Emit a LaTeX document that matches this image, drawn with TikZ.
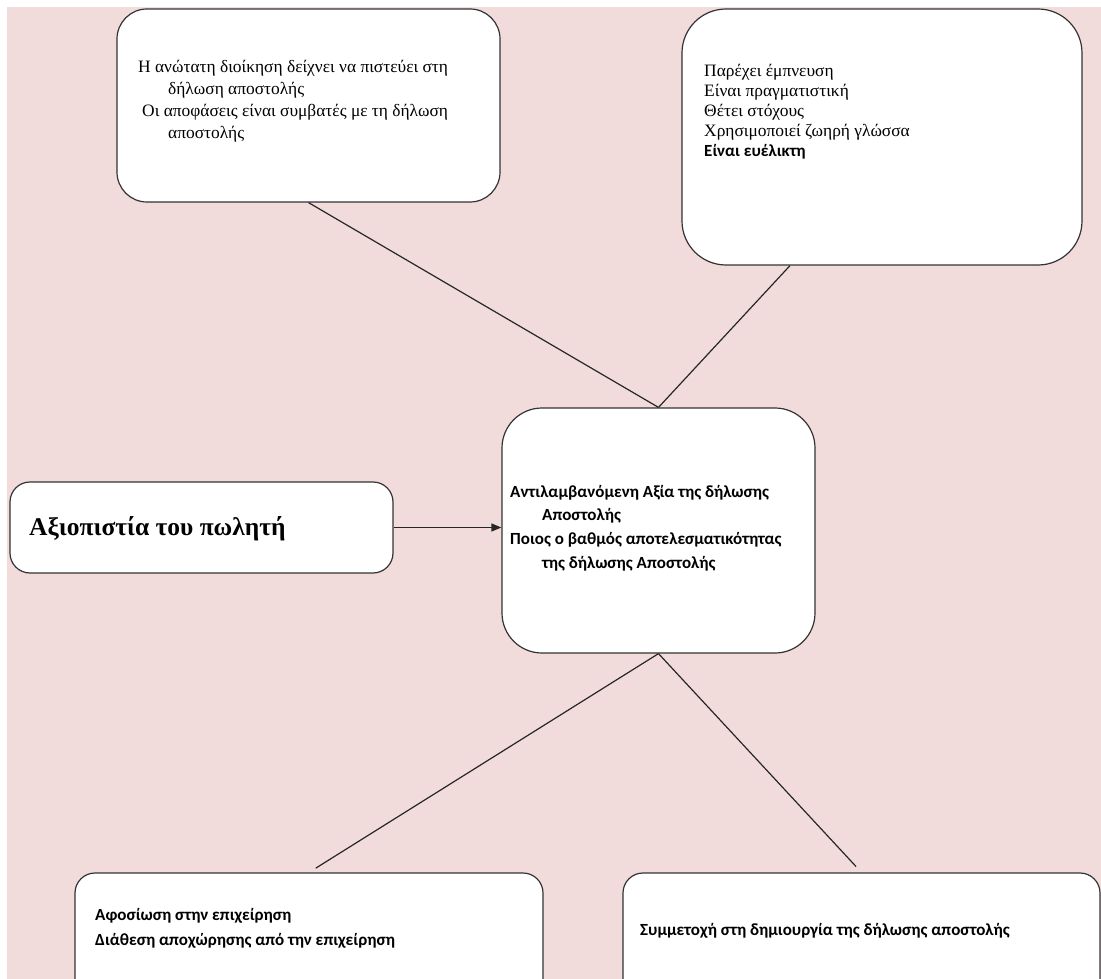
\documentclass[tikz,border=0pt]{standalone}
\usepackage{fontspec}
\setmainfont{Liberation Serif}
\newfontfamily\calfont{Carlito}
\usetikzlibrary{arrows.meta}
\definecolor{bgpink}{HTML}{F2DCDB}
\definecolor{edgegray}{HTML}{333333}
\tikzset{
  box/.style={draw=edgegray, line width=1.2pt, fill=white, inner sep=0pt},
  link/.style={draw=black!85, line width=1.2pt},
  serifline/.style={anchor=base west, inner sep=0pt, font=\fontsize{17.4}{20}\selectfont},
  calline/.style={anchor=base west, inner sep=0pt, font=\calfont\bfseries\fontsize{17}{20}\selectfont},
}
\begin{document}
\begin{tikzpicture}[x=1pt,y=-1pt]
\useasboundingbox (0,0) rectangle (1101,979);
\clip (0,0) rectangle (1101,979);
\fill[bgpink] (7,7) rectangle (1101,979);

% boxes
\node[box, rounded corners=30pt, minimum width=383pt, minimum height=193pt] (tl) at (308.5,105.5) {};
\node[box, rounded corners=44pt, minimum width=400pt, minimum height=256pt] (tr) at (882,137) {};
\node[box, rounded corners=40pt, minimum width=313pt, minimum height=245pt] (c) at (658.5,530.5) {};
\node[box, rounded corners=20pt, minimum width=383pt, minimum height=91pt] (lb) at (201.5,527.5) {};
\node[box, rounded corners=20pt, minimum width=468pt, minimum height=140pt] (bl) at (309,943) {};
\node[box, rounded corners=20pt, minimum width=477pt, minimum height=140pt] (br) at (861.5,943) {};

% connectors
\draw[link] (tl.south) -- (c.north);
\draw[link] ([xshift=-92pt]tr.south) -- (c.north);
\draw[link, shorten >=8pt] (c.south) -- (bl.north);
\draw[link, shorten >=8pt] (c.south) -- (br.north);
\draw[link, -{Triangle[length=10pt,width=8pt]}] (lb.east) -- (lb.east -| c.west);

% top-left text
\node[serifline] (tl1) at (138,73) {Η ανώτατη διοίκηση δείχνει να πιστεύει στη};
\node[serifline] (tl2) at (168,95) {δήλωση αποστολής};
\node[serifline] (tl3) at (142,117) {Οι αποφάσεις είναι συμβατές με τη δήλωση};
\node[serifline] (tl4) at (168,138.5) {αποστολής};

% top-right text
\node[serifline] (tr1) at (704,77) {Παρέχει έμπνευση};
\node[serifline] (tr2) at (704,97) {Είναι πραγματιστική};
\node[serifline] (tr3) at (704,117) {Θέτει στόχους};
\node[serifline] (tr4) at (704,137) {Χρησιμοποιεί ζωηρή γλώσσα};
\node[calline] (tr5) at (704,157) {Είναι ευέλικτη};

% left text
\node[anchor=base west, inner sep=0pt, font=\bfseries\fontsize{25.5}{30}\selectfont] (lt) at (29,535) {Αξιοπιστία του πωλητή};

% centre text
\node[calline] (c1) at (510,497) {Αντιλαμβανόμενη Αξία της δήλωσης};
\node[calline] (c2) at (542,520.5) {Αποστολής};
\node[calline] (c3) at (510,544) {Ποιος ο βαθμός αποτελεσματικότητας};
\node[calline] (c4) at (542,568) {της δήλωσης Αποστολής};

% bottom text
\node[calline] (b1) at (95,920) {Αφοσίωση στην επιχείρηση};
\node[calline] (b2) at (95,945) {Διάθεση αποχώρησης από την επιχείρηση};
\node[calline] (b3) at (640,935) {Συμμετοχή στη δημιουργία της δήλωσης αποστολής};
\end{tikzpicture}
\end{document}
